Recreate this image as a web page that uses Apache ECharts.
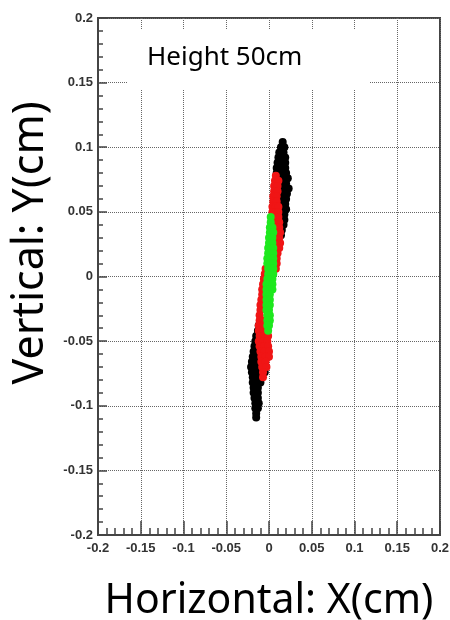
<!DOCTYPE html>
<html>
<head>
<meta charset="utf-8">
<script src="https://cdn.jsdelivr.net/npm/echarts@6/dist/echarts.min.js"></script>
<style>
  body { margin: 0; background: #fff; }
  #chart { width: 450px; height: 620px; }
</style>
</head>
<body>
<div id="chart"></div>
<script>
// [x, y] in cm
const blackPts = [
  [0.016, 0.104], [0.014, 0.1], [0.018, 0.1], [0.012, 0.096], [0.017, 0.096],
  [0.011, 0.092], [0.016, 0.092], [0.019, 0.092], [0.01, 0.088], [0.015, 0.088], [0.019, 0.088],
  [0.009, 0.084], [0.014, 0.084], [0.019, 0.084], [0.009, 0.08], [0.014, 0.08], [0.02, 0.08],
  [0.013, 0.076], [0.018, 0.076], [0.022, 0.076], [0.015, 0.072], [0.02, 0.072],
  [0.014, 0.068], [0.019, 0.068], [0.023, 0.068], [0.016, 0.064], [0.021, 0.064],
  [0.015, 0.06], [0.02, 0.06], [0.014, 0.056], [0.019, 0.056], [0.016, 0.052], [0.02, 0.052],
  [0.013, 0.048], [0.018, 0.048], [0.015, 0.044], [0.018, 0.044], [0.014, 0.04], [0.017, 0.04],
  [0.015, 0.036], [0.014, 0.032],
  [-0.01, -0.034], [-0.012, -0.038], [-0.013, -0.042], [-0.009, -0.042], [-0.015, -0.046],
  [-0.01, -0.046], [-0.016, -0.05], [-0.011, -0.05], [-0.017, -0.054], [-0.012, -0.054],
  [-0.018, -0.058], [-0.013, -0.058], [-0.019, -0.062], [-0.014, -0.062], [-0.009, -0.062],
  [-0.02, -0.066], [-0.015, -0.066], [-0.01, -0.066], [-0.021, -0.07], [-0.016, -0.07],
  [-0.011, -0.07], [-0.006, -0.07], [-0.02, -0.074], [-0.015, -0.074], [-0.01, -0.074],
  [-0.005, -0.074], [-0.019, -0.078], [-0.014, -0.078], [-0.009, -0.078], [-0.019, -0.082],
  [-0.014, -0.082], [-0.01, -0.082], [-0.018, -0.086], [-0.013, -0.086], [-0.018, -0.09],
  [-0.013, -0.09], [-0.017, -0.094], [-0.013, -0.094], [-0.016, -0.098], [-0.012, -0.098],
  [-0.016, -0.102], [-0.013, -0.102], [-0.015, -0.106], [-0.015, -0.109]
];
const redPts = [
  [0.008, 0.078], [0.007, 0.074], [0.011, 0.074], [0.006, 0.07], [0.01, 0.07], [0.006, 0.066],
  [0.01, 0.066], [0.005, 0.062], [0.009, 0.062], [0.005, 0.058], [0.009, 0.058], [0.004, 0.054],
  [0.008, 0.054], [0.011, 0.054], [0.004, 0.05], [0.008, 0.05], [0.011, 0.05], [0.007, 0.046],
  [0.011, 0.046], [0.008, 0.042], [0.012, 0.042], [0.008, 0.038], [0.012, 0.038], [0.009, 0.034],
  [0.013, 0.034], [0.009, 0.03], [0.012, 0.03], [0.01, 0.026], [0.013, 0.026], [0.009, 0.022],
  [0.012, 0.022], [0.01, 0.018], [0.009, 0.014], [0.009, 0.01], [0.008, 0.006],
  [-0.004, 0.006], [-0.005, 0.002], [-0.006, -0.002], [-0.007, -0.006], [-0.008, -0.01],
  [-0.008, -0.014], [-0.009, -0.018], [-0.01, -0.022], [-0.01, -0.026], [-0.011, -0.03],
  [-0.011, -0.034], [-0.006, -0.034], [-0.012, -0.038], [-0.007, -0.038], [-0.012, -0.042],
  [-0.007, -0.042], [-0.011, -0.046], [-0.006, -0.046], [-0.001, -0.046], [-0.012, -0.05],
  [-0.007, -0.05], [-0.002, -0.05], [-0.011, -0.054], [-0.006, -0.054], [-0.001, -0.054],
  [-0.01, -0.058], [-0.005, -0.058], [0.0, -0.058], [-0.009, -0.062], [-0.004, -0.062],
  [0.0, -0.062], [-0.009, -0.066], [-0.004, -0.066], [-0.008, -0.07], [-0.003, -0.07],
  [-0.007, -0.074], [-0.007, -0.078]
];
const greenPts = [
  [0.002, 0.046], [0.002, 0.042], [0.001, 0.038], [0.004, 0.038], [0.001, 0.034], [0.005, 0.034],
  [0.0, 0.03], [0.004, 0.03], [0.0, 0.026], [0.004, 0.026], [-0.001, 0.022], [0.003, 0.022],
  [0.005, 0.022], [-0.001, 0.018], [0.003, 0.018], [0.005, 0.018], [-0.002, 0.014], [0.002, 0.014],
  [0.005, 0.014], [-0.002, 0.01], [0.002, 0.01], [0.005, 0.01], [-0.001, 0.006], [0.003, 0.006],
  [0.005, 0.006], [-0.001, 0.002], [0.003, 0.002], [0.005, 0.002], [-0.002, -0.002], [0.002, -0.002],
  [0.004, -0.002], [-0.003, -0.006], [0.001, -0.006], [0.004, -0.006], [-0.003, -0.01],
  [0.001, -0.01], [0.004, -0.01], [-0.003, -0.014], [0.001, -0.014], [-0.003, -0.018],
  [0.001, -0.018], [-0.003, -0.022], [0.001, -0.022], [-0.003, -0.026], [0.0, -0.026],
  [-0.002, -0.03], [0.001, -0.03], [-0.002, -0.034], [0.001, -0.034], [-0.002, -0.038],
  [0.0, -0.038], [-0.001, -0.042]
];
const axisMin = -0.2;
const axisMax = 0.2;
const step = 0.05;

const labelStyle = {
  fontFamily: 'Liberation Sans',
  fontWeight: 'bold',
  fontSize: 13,
  color: '#333'
};

const myChart = echarts.init(document.getElementById('chart'));
const option = {
  animation: false,
  grid: {
    left: 98, right: 10, top: 18, bottom: 85,
    outerBoundsMode: 'none',
    show: true,
    borderColor: '#444',
    borderWidth: 2
  },
  xAxis: {
    type: 'value',
    min: axisMin, max: axisMax, interval: step,
    name: 'Horizontal: X(cm)',
    nameLocation: 'middle',
    nameGap: 46,
    nameTextStyle: { fontFamily: 'Noto Sans', fontSize: 41, color: '#000' },
    axisLine: { show: true, onZero: false, lineStyle: { color: '#444', width: 2 } },
    axisTick: { show: true, inside: true, length: 14, lineStyle: { color: '#444', width: 1.5 } },
    minorTick: { show: true, splitNumber: 5, length: 7, lineStyle: { color: '#444', width: 1.5 } },
    axisLabel: Object.assign({ margin: 7 }, labelStyle),
    splitLine: { show: true, lineStyle: { type: 'dotted', color: '#666', width: 1 } }
  },
  yAxis: {
    type: 'value',
    min: axisMin, max: axisMax, interval: step,
    axisLine: { show: true, onZero: false, lineStyle: { color: '#444', width: 2 } },
    axisTick: { show: true, inside: true, length: 9, lineStyle: { color: '#444', width: 1.5 } },
    minorTick: { show: true, splitNumber: 5, length: 5, lineStyle: { color: '#444', width: 1.5 } },
    axisLabel: Object.assign({ margin: 5 }, labelStyle),
    splitLine: { show: true, lineStyle: { type: 'dotted', color: '#666', width: 1 } }
  },
  graphic: [
    {
      type: 'rect',
      z: 100,
      shape: { x: 128, y: 30, width: 242, height: 60 },
      style: { fill: '#fff' }
    },
    {
      type: 'text',
      z: 101,
      left: 147,
      top: 45,
      style: {
        text: 'Height 50cm',
        font: '26px "Noto Sans"',
        fill: '#000'
      }
    },
    {
      // y axis title sits above the plot centre in the reference
      type: 'text',
      z: 101,
      x: 31,
      y: 243,
      rotation: Math.PI / 2,
      style: {
        text: 'Vertical: Y(cm)',
        font: '43px "Noto Sans"',
        fill: '#000',
        align: 'center',
        verticalAlign: 'middle'
      }
    }
  ],
  series: [
    { type: 'scatter', data: blackPts, symbolSize: 8, itemStyle: { color: '#000', opacity: 1 } },
    { type: 'scatter', data: redPts, symbolSize: 8, itemStyle: { color: '#f01515', opacity: 1 } },
    { type: 'scatter', data: greenPts, symbolSize: 8, itemStyle: { color: '#1ee81e', opacity: 1 } }
  ]
};
myChart.setOption(option);
</script>
</body>
</html>
